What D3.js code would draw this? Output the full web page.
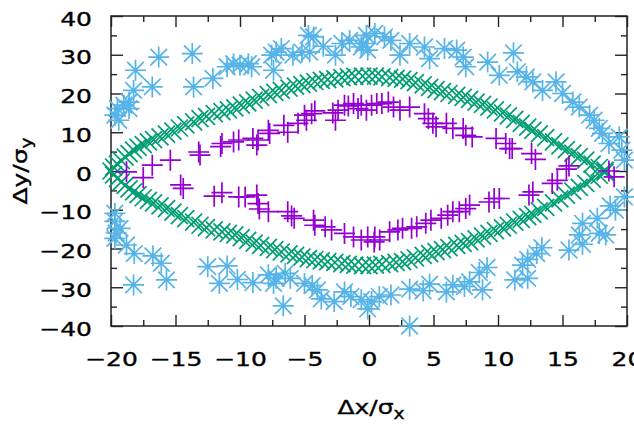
<!DOCTYPE html>
<html>
<head>
<meta charset="utf-8">
<script src="https://cdn.jsdelivr.net/npm/d3@7"></script>
<style>
  body { margin: 0; background: #fff; }
  svg { display: block; }
  text { font-family: "DejaVu Sans", sans-serif; fill: #000; stroke: #000; stroke-width: 0.35px; }
</style>
</head>
<body>
<div id="chart"></div>
<script>
// tick values
var xMajor = [-20, -15, -10, -5, 0, 5, 10, 15, 20];
var xMinor = [-17.5, -12.5, -7.5, -2.5, 2.5, 7.5, 12.5, 17.5];
var yMajor = [-40, -30, -20, -10, 0, 10, 20, 30, 40];
var yMinor = [-35, -25, -15, -5, 5, 15, 25, 35];

// green "x" points, upper and lower branch, [x, y]
var greenUpper = [
  [-20.0, 0.0], [-19.8, 1.0], [-19.5, 1.8], [-19.2, 2.7], [-18.9, 3.6], [-18.6, 4.5],
  [-18.25, 5.4], [-17.9, 6.1], [-17.5, 6.8], [-17.1, 7.5], [-16.7, 8.1], [-16.2, 8.8],
  [-15.7, 9.5], [-15.2, 10.3], [-14.7, 11.1], [-14.2, 11.9], [-13.6, 12.7], [-13.1, 13.5],
  [-12.6, 14.1], [-12.0, 14.8], [-11.4, 15.3], [-10.9, 15.8], [-10.4, 16.3], [-9.9, 17.0],
  [-9.4, 17.6], [-8.9, 18.3], [-8.4, 19.0], [-7.8, 19.7], [-7.3, 20.3], [-6.8, 20.8],
  [-6.2, 21.4], [-5.7, 21.9], [-5.2, 22.3], [-4.7, 22.7], [-4.2, 23.1], [-3.7, 23.4],
  [-3.2, 23.6], [-2.65, 23.8], [-2.1, 24.1], [-1.6, 24.3], [-1.1, 24.4], [-0.5, 24.5],
  [0.0, 24.5], [0.5, 24.5], [1.0, 24.3], [1.6, 24.1], [2.1, 23.9], [2.6, 23.7],
  [3.1, 23.3], [3.6, 22.8], [4.2, 22.2], [4.7, 21.6], [5.2, 21.0], [5.7, 20.5],
  [6.2, 20.0], [6.8, 19.5], [7.3, 19.0], [7.8, 18.5], [8.3, 17.8], [8.8, 17.2],
  [9.3, 16.5], [9.8, 15.8], [10.35, 15.0], [10.8, 14.2], [11.3, 13.3], [11.8, 12.3],
  [12.3, 11.3], [12.7, 10.5], [13.2, 9.6], [13.7, 8.6], [14.3, 7.5], [14.8, 6.5],
  [15.3, 5.5], [15.8, 4.6], [16.3, 3.7], [16.8, 2.8], [17.3, 1.8], [17.85, 0.9], [18.3, 0.2]
];
var greenLower = [
  [-19.8, -1.0], [-19.5, -1.9], [-19.2, -2.8], [-18.9, -3.7], [-18.6, -4.6], [-18.25, -5.4],
  [-17.9, -6.1], [-17.5, -6.9], [-17.1, -7.6], [-16.7, -8.2], [-16.2, -9.0], [-15.7, -9.7],
  [-15.2, -10.6], [-14.7, -11.5], [-14.2, -12.3], [-13.6, -13.2], [-13.1, -14.0], [-12.6, -14.6],
  [-12.0, -15.2], [-11.4, -15.7], [-10.9, -16.1], [-10.4, -16.5], [-9.9, -17.2], [-9.4, -17.9],
  [-8.9, -18.6], [-8.4, -19.2], [-7.8, -19.7], [-7.3, -20.3], [-6.8, -20.9], [-6.2, -21.4],
  [-5.7, -21.8], [-5.2, -22.2], [-4.7, -22.6], [-4.2, -22.9], [-3.7, -23.2], [-3.2, -23.4],
  [-2.65, -23.6], [-2.1, -23.9], [-1.6, -24.1], [-1.1, -24.3], [-0.5, -24.4], [0.0, -24.4],
  [0.5, -24.3], [1.0, -24.1], [1.6, -23.9], [2.1, -23.6], [2.6, -23.4], [3.1, -22.9],
  [3.6, -22.4], [4.2, -21.8], [4.7, -21.3], [5.2, -20.8], [5.7, -20.3], [6.2, -19.8],
  [6.8, -19.2], [7.3, -18.7], [7.8, -18.2], [8.3, -17.5], [8.8, -16.8], [9.3, -16.1],
  [9.8, -15.4], [10.35, -14.7], [10.8, -14.0], [11.3, -13.2], [11.8, -12.5], [12.3, -11.8],
  [12.7, -11.2], [13.2, -10.3], [13.7, -9.4], [14.3, -8.2], [14.8, -7.2], [15.3, -6.2],
  [15.8, -5.2], [16.3, -4.2], [16.8, -3.2], [17.3, -2.1], [17.85, -1.1], [18.3, -0.3]
];

// purple "+" points
var purplePts = [
  [-18.8, -0.2], [-17.5, -1.7], [-16.8, 1.5], [-15.4, 2.8], [-14.6, -3.6], [-14.4, -4.5],
  [-13.2, 4.9], [-13.1, 4.1], [-12.0, -6.5], [-11.4, -5.6], [-11.5, 6.3], [-11.4, 7.1],
  [-10.5, 7.5], [-10.1, 8.0], [-10.1, -6.7], [-9.6, -6.7], [-9.0, 8.4], [-8.7, 6.7],
  [-8.6, 8.0], [-8.7, -6.2], [-8.6, -8.4], [-8.5, -9.8], [-7.8, 10.5], [-7.7, 9.7],
  [-7.8, -10.5], [-6.6, 11.8], [-6.3, 10.0], [-6.3, -10.5], [-6.0, -11.6], [-5.8, -12.2],
  [-5.5, 12.3], [-5.0, 14.4], [-4.85, 13.1], [-4.45, 14.8], [-4.2, 15.5], [-4.3, -12.7],
  [-4.2, -14.0], [-3.4, -14.4], [-2.9, -15.2], [-2.8, 15.0], [-2.6, 13.1], [-2.4, 15.7],
  [-1.9, 17.0], [-1.6, 16.8], [-1.2, 17.4], [-1.9, -16.1], [-1.2, -17.0], [-0.85, 16.1],
  [-0.6, 17.0], [-0.6, -17.8], [-0.2, 15.7], [-0.1, -17.0], [0.2, 17.0], [0.4, -18.3],
  [0.45, -17.0], [0.6, 17.4], [0.83, -17.8], [1.0, 17.4], [1.5, 17.8], [1.6, -15.7],
  [1.9, 16.5], [2.24, -15.2], [2.4, 15.7], [2.6, -14.8], [3.15, 16.5], [3.3, -14.8],
  [3.7, -14.4], [4.3, 14.8], [4.4, -13.5], [4.6, 13.5], [4.8, -12.7], [4.95, 12.3],
  [5.2, 11.4], [5.6, -12.2], [6.0, 12.3], [6.1, -11.4], [6.5, 11.0], [6.5, -10.5],
  [7.0, -10.5], [7.3, 11.0], [7.5, 9.2], [7.5, -9.7], [7.8, -8.8], [8.0, 8.8],
  [9.3, -8.0], [9.7, -7.1], [9.85, 8.4], [10.1, -7.1], [10.6, 7.1], [10.9, 5.8],
  [11.1, 5.8], [12.4, -6.2], [12.7, -5.4], [12.6, 4.5], [12.9, 3.0], [14.2, -3.2],
  [14.6, -2.4], [15.3, 0.5], [15.5, 1.3], [18.6, 0.0], [19.0, -1.5]
];

// blue "*" points
var bluePts = [
  [-19.7, 14.4], [-19.4, 13.1], [-19.5, 16.1], [-19.0, 17.0], [-18.6, 17.8], [-18.6, 16.1],
  [-18.25, 20.8], [-18.1, 26.0], [-16.8, 21.7], [-16.3, 29.4], [-13.7, 30.3], [-13.6, 21.7],
  [-12.1, 23.9], [-11.0, 26.9], [-10.5, 27.7], [-10.0, 27.3], [-9.35, 27.7], [-9.1, 26.9],
  [-7.55, 29.9], [-7.4, 26.0], [-7.2, 30.7], [-6.8, 31.6], [-5.9, 29.9], [-5.2, 30.7],
  [-4.7, 35.0], [-4.6, 30.7], [-4.3, 34.6], [-3.55, 32.2], [-2.6, 29.9], [-2.1, 32.9],
  [-1.5, 33.7], [-0.6, 32.0], [-0.45, 32.9], [-0.2, 35.0], [-0.1, 31.2], [0.45, 35.5],
  [1.2, 34.6], [1.7, 33.7], [2.4, 29.9], [3.15, 32.9], [4.3, 32.0], [4.7, 29.0],
  [5.85, 31.6], [6.8, 31.2], [7.3, 29.4], [7.5, 26.9], [9.2, 28.1], [10.1, 24.7],
  [11.2, 30.5], [11.5, 25.6], [12.2, 24.3], [12.7, 23.0], [13.45, 20.8], [14.5, 23.0],
  [15.0, 20.0], [15.8, 17.8], [16.3, 16.5], [17.1, 14.4], [17.45, 13.1], [17.85, 11.0],
  [18.1, 9.7], [18.6, 7.1], [19.4, 8.8], [19.6, 5.4], [19.8, 2.8],
  [-19.7, -10.9], [-19.7, -13.0], [-19.3, -14.8], [-19.6, -16.0], [-19.7, -17.4], [-18.8, -19.1],
  [-18.2, -21.3], [-18.25, -29.4], [-16.75, -21.9], [-16.1, -23.8], [-15.7, -28.1], [-12.5, -24.7],
  [-11.6, -29.0], [-11.0, -24.5], [-10.2, -28.0], [-9.0, -28.8], [-7.8, -26.8], [-7.2, -27.7],
  [-7.4, -29.0], [-6.5, -26.4], [-6.65, -34.8], [-6.1, -27.7], [-5.0, -29.0], [-4.4, -29.6],
  [-4.0, -30.7], [-3.7, -33.0], [-2.7, -33.7], [-1.9, -31.2], [-1.4, -32.4], [-0.6, -33.2],
  [-0.1, -35.6], [0.2, -33.7], [0.8, -32.4], [1.7, -32.0], [3.15, -30.5], [3.15, -40.0],
  [4.2, -30.9], [4.7, -29.2], [6.0, -31.2], [6.5, -29.4], [7.4, -29.8], [7.8, -28.6],
  [8.55, -26.2], [8.8, -30.7], [9.15, -24.9], [11.3, -28.1], [12.3, -27.7], [11.9, -24.3],
  [12.3, -22.8], [13.0, -21.3], [13.4, -19.8], [15.5, -20.4], [16.55, -18.9], [16.3, -16.5],
  [16.55, -13.5], [17.85, -16.1], [18.35, -16.5], [17.7, -12.2], [18.7, -9.0], [19.1, -10.1],
  [19.8, -6.7]
];

var w = 634,
  h = 425;
var margin = { top: 16, right: 7, bottom: 99, left: 111 };
var wide = 1.25; // the lettering in the picture is wide

var svg = d3
  .select("#chart")
  .append("svg")
  .attr("width", w)
  .attr("height", h);

svg.append("rect").attr("width", w).attr("height", h).attr("fill", "#fff");

var x = d3.scaleLinear().domain([-20, 20]).range([margin.left, w - margin.right]);
var y = d3.scaleLinear().domain([-40, 40]).range([h - margin.bottom, margin.top]);

var fontSize = 20;

// axes, ticks pointing inward on all four sides
function drawAxis(axis, tx, ty, values, size, labels) {
  var g = svg
    .append("g")
    .attr("transform", "translate(" + tx + "," + ty + ")")
    .call(axis.tickValues(values).tickSize(size));
  g.select(".domain").remove();
  g.selectAll(".tick line").attr("stroke", "#222").attr("stroke-width", 1.4);
  if (!labels) g.selectAll(".tick text").remove();
  return g;
}

var bottomY = y(-40), topY = y(40), leftX = x(-20), rightX = x(20);

var bx = drawAxis(d3.axisBottom(x), 0, bottomY, xMajor, -11, true);
bx.selectAll(".tick text")
  .attr("y", 26)
  .attr("dy", "0.71em")
  .attr("transform", "scale(" + wide + ",1)")
  .style("font-size", fontSize + "px");
drawAxis(d3.axisBottom(x).tickFormat(""), 0, bottomY, xMinor, -6, false);
drawAxis(d3.axisTop(x).tickFormat(""), 0, topY, xMajor, -11, false);
drawAxis(d3.axisTop(x).tickFormat(""), 0, topY, xMinor, -6, false);

var ly = drawAxis(d3.axisLeft(y), leftX, 0, yMajor, -12, true);
ly.selectAll(".tick text")
  .attr("x", -19 / wide)
  .attr("dy", "0.45em")
  .attr("transform", "scale(" + wide + ",1)")
  .style("font-size", fontSize + "px");
drawAxis(d3.axisLeft(y).tickFormat(""), leftX, 0, yMinor, -6, false);
drawAxis(d3.axisRight(y).tickFormat(""), rightX, 0, yMajor, -12, false);
drawAxis(d3.axisRight(y).tickFormat(""), rightX, 0, yMinor, -6, false);

// frame
svg
  .append("rect")
  .attr("x", leftX)
  .attr("y", topY)
  .attr("width", rightX - leftX)
  .attr("height", bottomY - topY)
  .attr("fill", "none")
  .attr("stroke", "#222")
  .attr("stroke-width", 1.5);

// point symbols
function plusPath(s) {
  return "M" + -s + ",0H" + s + "M0," + -s + "V" + s;
}
function crossPath(s) {
  return "M" + -s + "," + -s + "L" + s + "," + s + "M" + -s + "," + s + "L" + s + "," + -s;
}

function drawPoints(data, path, color) {
  svg
    .append("g")
    .selectAll("path")
    .data(data)
    .enter()
    .append("path")
    .attr("transform", function(d) {
      return "translate(" + x(d[0]) + "," + y(d[1]) + ")";
    })
    .attr("d", path)
    .attr("fill", "none")
    .attr("stroke", color)
    .attr("stroke-width", 1.7);
}

drawPoints(greenUpper.concat(greenLower), crossPath(8.5), "#009e73");
drawPoints(bluePts, plusPath(10.5) + crossPath(8.3), "#56b4e9");
drawPoints(purplePts, plusPath(10.5), "#9400d3");

// axis titles
var yt = svg
  .append("g")
  .attr("transform", "translate(27," + (topY + bottomY) / 2 + ") rotate(-90)")
  .append("text")
  .attr("transform", "scale(" + wide + ",1)")
  .attr("text-anchor", "middle")
  .style("font-size", "20px");
yt.append("tspan").text("Δy/σ");
yt.append("tspan").attr("dy", 5).style("font-size", "15px").text("y");

var xt = svg
  .append("g")
  .attr("transform", "translate(" + (leftX + rightX + 4) / 2 + ",414)")
  .append("text")
  .attr("transform", "scale(" + wide + ",1)")
  .attr("text-anchor", "middle")
  .style("font-size", "20px");
xt.append("tspan").text("Δx/σ");
xt.append("tspan").attr("dy", 5).style("font-size", "15px").text("x");
</script>
</body>
</html>
